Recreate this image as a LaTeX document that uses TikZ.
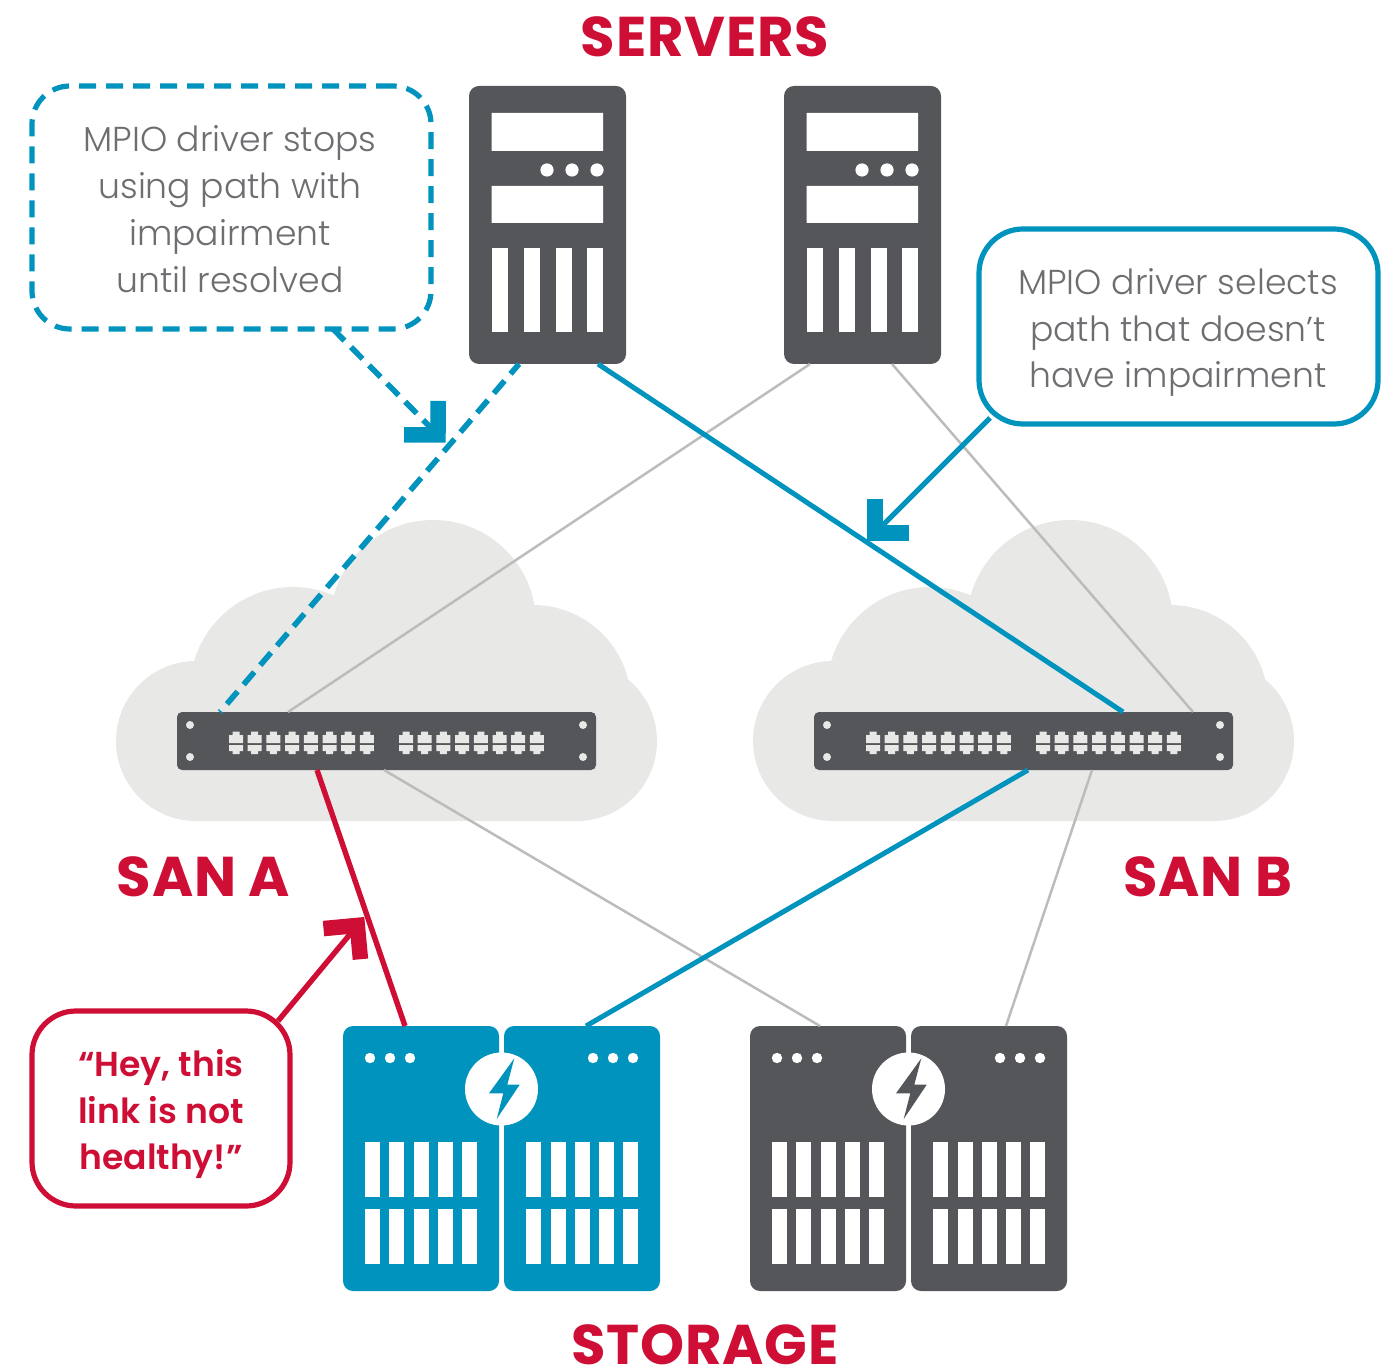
\documentclass[tikz,border=0pt]{standalone}
\usepackage{fontspec}
\setmainfont{Poppins Light}
\newfontfamily\boldf{Poppins SemiBold}
\newfontfamily\headf[LetterSpace=1.5]{Poppins Bold}
\usetikzlibrary{arrows.meta}
\definecolor{dev}{HTML}{54565A}
\definecolor{cloudc}{HTML}{E8E8E6}
\definecolor{linec}{HTML}{BDBCBA}
\definecolor{bluec}{HTML}{0093BD}
\definecolor{redc}{HTML}{CE0E35}
\definecolor{txtc}{HTML}{6D6E71}
\tikzset{
 x=0.5pt,y=-0.5pt,
 devbox/.style={fill=#1,rounded corners=5pt,inner sep=0pt,outer sep=0pt,draw=none},
 graylink/.style={draw=linec,line width=1.25pt},
 bluelink/.style={draw=bluec,line width=2.5pt},
 redlink/.style={draw=redc,line width=2.7pt},
 dashlink/.style={draw=bluec,line width=2.8pt,dash pattern=on 8.2pt off 4.6pt},
 barb/.style={-{Straight Barb[length=12pt,width=24pt,line width=7.75pt]}},
 callout/.style={rounded corners=#1,line width=2.6pt,inner sep=0pt,outer sep=0pt},
 calltext/.style={text=txtc,align=center,inner sep=0pt,font=\fontsize{17.3}{23.4}\selectfont},
 calltextb/.style={text=redc,align=center,inner sep=0pt,font=\boldf\fontsize{17.3}{23.4}\selectfont},
 heading/.style={text=redc,inner sep=0pt,font=\headf\fontsize{28}{30}\selectfont},
}
\newcommand\serverunit[2]{%
 \node[devbox=dev,minimum width=78.5pt,minimum height=139pt] (#1) at (#2+78.5,225) {};
 \begin{scope}[shift={(#2,0)}]
  \fill[white] (22.5,113) rectangle (134,151) (22.5,186) rectangle (134,223);
  \foreach \dx in {78,103,128} \fill[white] (\dx,170) circle (3.3pt);
  \foreach \dx in {22.5,55,87,118} \fill[white] (\dx,248) rectangle (\dx+16,332);
 \end{scope}}
\newcommand\cloudshape[1]{%
 \begin{scope}[shift={(#1,0)}]
  \fill[cloudc] (190,700) rectangle (580,821);
  \fill[cloudc] (196,741) circle (40pt) (293,690) circle (51.5pt) (433,623) circle (51.5pt)
    (533,703) circle (49pt) (577,741) circle (40pt);
 \end{scope}}
\newcommand\switchunit[2]{%
 \node[devbox=dev,rounded corners=2.5pt,minimum width=209.5pt,minimum height=29pt] (#1) at (#2+386.5,741) {};
 \begin{scope}[shift={(#2,0)}]
  \foreach \hx in {190,583} \foreach \hy in {725,757} \fill[cloudc] (\hx,\hy) circle (2pt);
  \foreach \gx in {229,399} \foreach \i in {0,...,7} {
   \begin{scope}[shift={(\gx+\i*18.7,0)}]
    \fill[cloudc] (0,743) -- (0,735) -- (3.5,735) -- (3.5,731.5) -- (10.5,731.5) -- (10.5,735) -- (14,735) -- (14,743) -- cycle;
    \fill[cloudc] (0,745) -- (0,751) -- (3.5,751) -- (3.5,754) -- (10.5,754) -- (10.5,751) -- (14,751) -- (14,745) -- cycle;
   \end{scope}}
 \end{scope}}
\newcommand\storageunit[4]{% left name, right name, xshift, colour
 \node[devbox=#4,minimum width=78pt,minimum height=132.5pt] (#1) at (#3+421,1158.5) {};
 \node[devbox=#4,minimum width=78pt,minimum height=132.5pt] (#2) at (#3+582,1158.5) {};
 \begin{scope}[shift={(#3,0)}]
  \foreach \dx in {370,390,410,593,613,633} \fill[white] (\dx,1058) circle (2.6pt);
  \foreach \sx in {365,389,413.5,437.5,462,526,550.5,574.5,598.5,623} {
   \fill[white] (\sx,1142) rectangle (\sx+15,1197);
   \fill[white] (\sx,1209) rectangle (\sx+15,1264);
  }
  \fill[white] (501.5,1089) circle (18.25pt);
  \fill[#4] (514.3,1058.3) -- (489,1093.3) -- (503.3,1093.3) -- (496.7,1119) -- (519.7,1084.7) -- (507.3,1084.7) -- cycle;
 \end{scope}}
\begin{document}
\begin{tikzpicture}
\useasboundingbox (0,0) rectangle (1390,1368);
\cloudshape{0}
\cloudshape{637}
\serverunit{s1}{469}
\serverunit{s2}{784}
\switchunit{swa}{0}
\switchunit{swb}{637}
\storageunit{sta}{stb}{0}{bluec}
\storageunit{stc}{std}{407}{dev}
% links
\draw[graylink] ([xshift=-26.25pt]s2.south) -- ([xshift=-49.25pt]swa.north);
\draw[graylink] ([xshift=14.75pt]s2.south) -- ([xshift=84.75pt]swb.north);
\draw[graylink] ([xshift=-1.25pt]swa.south) -- ([xshift=-4pt]stc.north);
\draw[graylink] ([xshift=34.25pt]swb.south) -- ([xshift=8.5pt]std.north);
\draw[bluelink] ([xshift=25.25pt]s1.south) -- ([xshift=49.75pt]swb.north);
\draw[bluelink] ([xshift=2.25pt]swb.south) -- ([xshift=2pt]stb.north);
\draw[redlink] ([xshift=-34.75pt]swa.south) -- ([xshift=-8pt]sta.north);
\draw[dashlink,dash phase=1.7pt] ([xshift=-14.25pt]s1.south) -- ([xshift=-83.25pt]swa.north);
% callouts
\node[callout=19pt,draw=bluec,dash pattern=on 8.5pt off 5pt,minimum width=199.5pt,minimum height=121.5pt] (cd) at (231.5,207.5) {};
\node[calltext] (cdt) at (230,209) {MPIO driver stops\\using path with\\impairment\\until resolved};
\node[callout=22pt,draw=bluec,minimum width=199.5pt,minimum height=97.5pt] (cs) at (1178.5,326.5) {};
\node[calltext] (cst) at (1178,332.5) {MPIO driver selects\\path that doesn’t\\have impairment};
\node[callout=22pt,draw=redc,minimum width=129pt,minimum height=97.5pt] (cr) at (161,1108.5) {};
\node[calltextb] (crt) at (161,1114) {“Hey, this\\link is not\\healthy!”};
% callout arrows
\coordinate (tipd) at (445.7,442.7);
\coordinate (tips) at (867.3,540.7);
\coordinate (tipr) at (364.3,917);
\draw[dashlink,barb] ([xshift=50.75pt]cd.south) -- (tipd);
\draw[bluelink,barb] ([xshift=5.5pt,yshift=3pt]cs.south west) -- (tips);
\draw[redlink,barb] ([xshift=-6pt,yshift=-5pt]cr.north east) -- (tipr);
% headings
\node[heading] (h1) at (705,37) {SERVERS};
\node[heading] (h2) at (203.5,877) {SAN A};
\node[heading] (h3) at (1208,877) {SAN B};
\node[heading] (h4) at (705,1345) {STORAGE};
\end{tikzpicture}
\end{document}
